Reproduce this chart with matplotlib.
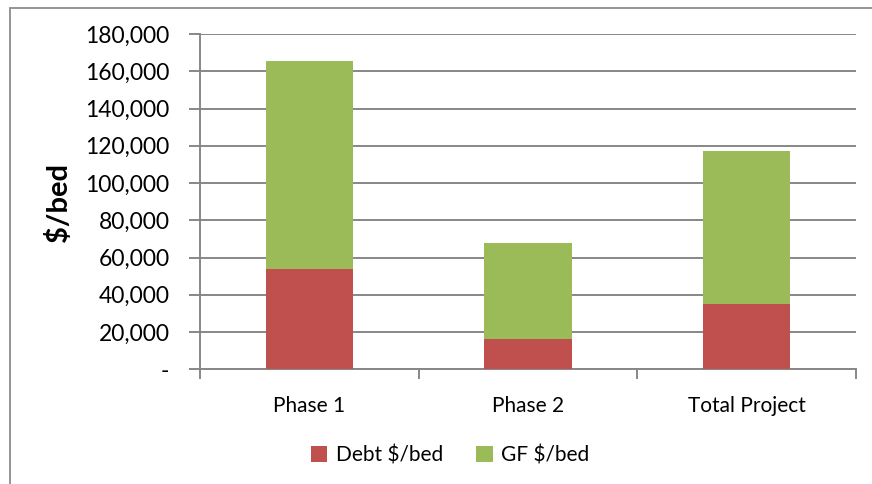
import matplotlib
matplotlib.use('Agg')
import matplotlib.pyplot as plt
from matplotlib.patches import Rectangle
from matplotlib.ticker import FuncFormatter
import numpy as np

# --- Date ---
categories = ['Phase 1', 'Phase 2', 'Total Project']
debt_per_bed = [54000, 16300, 35000]
gf_per_bed = [111600, 51300, 82200]   # segmentul verde (peste debt)

RED = '#C0504D'
GREEN = '#9BBB59'
GRID = '#878787'

plt.rcParams['font.family'] = ['Lato', 'DejaVu Sans']

fig = plt.figure(figsize=(8.72, 4.84), dpi=100)
ax = fig.add_axes([200 / 872, 1 - 369.3 / 484, 656 / 872, (369.3 - 34) / 484])

x = np.arange(len(categories))
ax.bar(x, debt_per_bed, width=0.4, color=RED, label='Debt $/bed', zorder=3)
ax.bar(x, gf_per_bed, width=0.4, bottom=debt_per_bed, color=GREEN,
       label='GF $/bed', zorder=3)

ax.set_xlim(-0.5, len(categories) - 0.5)
ax.set_ylim(0, 180000)
ax.set_yticks(range(0, 180001, 20000))
ax.yaxis.set_major_formatter(FuncFormatter(lambda v, p: '-' if v == 0 else f'{int(v):,}'))
ax.grid(axis='y', color=GRID, linewidth=1.4, zorder=0)

# ticks pe x la granitele categoriilor, etichete la centru
ax.set_xticks(np.arange(-0.5, len(categories), 1.0))
ax.set_xticklabels([])
ax.set_xticks(x, minor=True)
ax.set_xticklabels(categories, minor=True)
ax.tick_params(axis='x', which='minor', length=0, pad=19, labelsize=15)
ax.tick_params(axis='x', which='major', length=7, width=1.4, color=GRID, direction='out')
ax.tick_params(axis='y', length=8, width=1.4, color=GRID, direction='out', pad=14, labelsize=16.5)

for side in ['top', 'right']:
    ax.spines[side].set_visible(False)
for side in ['left', 'bottom']:
    ax.spines[side].set_color(GRID)
    ax.spines[side].set_linewidth(1.4)

fig.text(58 / 872, 1 - 203 / 484, '$/bed', rotation=90, fontsize=21,
         fontweight='bold', ha='center', va='center')

fig.legend(loc='center', bbox_to_anchor=(450 / 872, 1 - 455 / 484), ncol=2,
           frameon=False, fontsize=15, handlelength=0.8, handleheight=0.8,
           handletextpad=0.4, columnspacing=1.6)

# chenarul graficului
fig.patches.append(Rectangle((10 / 872, -0.1), 1.2, 1 - 8 / 484 + 0.1,
                             transform=fig.transFigure, fill=False,
                             edgecolor='#8C8C8C', linewidth=1.3))

fig.savefig('out.png', dpi=100)
